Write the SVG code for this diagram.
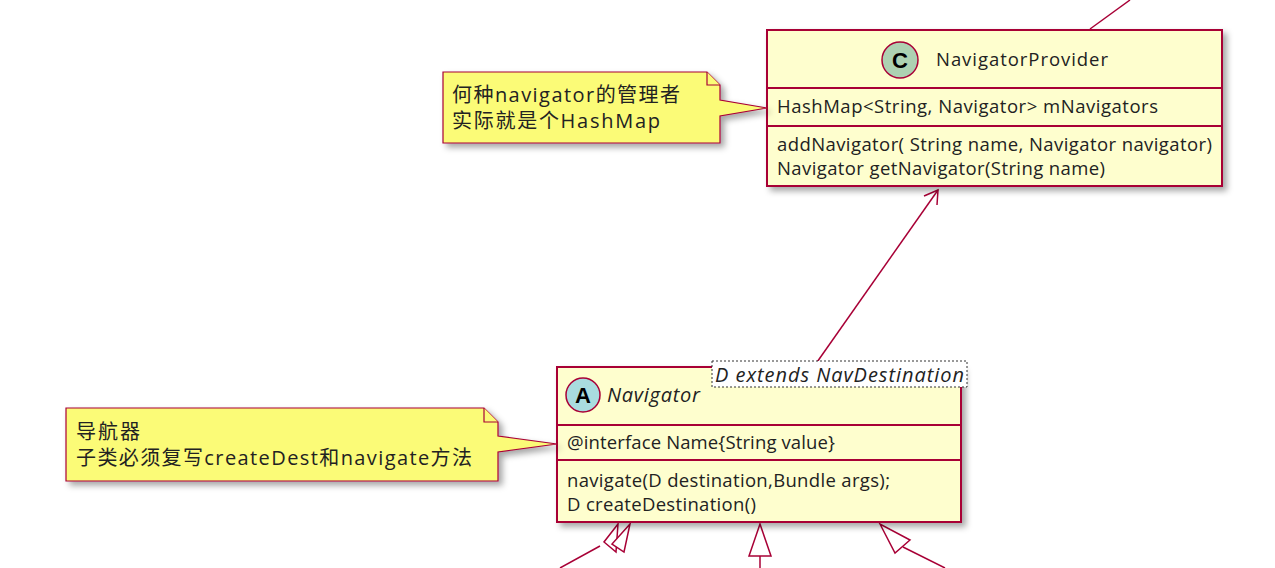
<svg xmlns="http://www.w3.org/2000/svg" width="1275" height="568" viewBox="0 0 1275 568">
<style>
.box{fill:#FEFECE;stroke:#A80036;stroke-width:2}
.note{fill:#FBFB77;stroke:#A80036;stroke-width:1.2}
.sep{stroke:#A80036;stroke-width:2}
.t{font-family:"Open Sans","Noto Sans CJK SC",sans-serif;font-size:18.5px;fill:#222}
.n{font-size:20px}
.i{font-style:italic;font-size:20px}
.ln{stroke:#A80036;stroke-width:1.5;fill:none}
.tri{fill:#fff;stroke:#A80036;stroke-width:1.5}
</style>
<defs>
<filter id="sh" x="-10%" y="-10%" width="130%" height="130%"><feDropShadow dx="4" dy="4" stdDeviation="3" flood-opacity="0.35"/></filter>
</defs>
<rect width="1275" height="568" fill="#fff"/>
<g id="connectors">
<line class="ln" x1="1090" y1="29" x2="1130" y2="0"/>
<line class="ln" x1="815" y1="365" x2="938" y2="190"/>
<path class="ln" d="M924 196 L938 190 L937 205"/>
<line class="ln" x1="600" y1="546" x2="560" y2="568"/>
<polygon class="tri" points="618,524 604,542 616,552"/>
<polygon class="tri" points="630,524 612,544 624,552"/>
<polygon class="tri" points="760,524 749,556 771,556"/>
<line class="ln" x1="760" y1="556" x2="760" y2="568"/>
<polygon class="tri" points="880,524 895,553 910,540"/>
<line class="ln" x1="903" y1="547" x2="945" y2="568"/>
</g>
<g id="NavigatorProvider">
<rect class="box" x="767" y="30" width="455" height="156" filter="url(#sh)"/>
<line class="sep" x1="767" y1="88" x2="1222" y2="88"/>
<line class="sep" x1="767" y1="126" x2="1222" y2="126"/>
<circle cx="900" cy="60" r="18" fill="#ADD1B2" stroke="#A80036" stroke-width="1.5"/>
<text x="900" y="68" text-anchor="middle" font-family="Liberation Sans,sans-serif" font-weight="bold" font-size="22" fill="#000">C</text>
<text class="t" x="936" y="66" textLength="172">NavigatorProvider</text>
<text class="t" x="777" y="113" textLength="381">HashMap&lt;String, Navigator&gt; mNavigators</text>
<text class="t" x="777" y="151" textLength="435">addNavigator( String name, Navigator navigator)</text>
<text class="t" x="777" y="175" textLength="328">Navigator getNavigator(String name)</text>
</g>
<g id="note1">
<path class="note" d="M443 72 L707 72 L720 85 L720 100 L767 108 L720 116 L720 143 L443 143 Z" filter="url(#sh)"/>
<path class="note" d="M707 72 L707 85 L720 85"/>
<text class="t n" x="452" y="102" textLength="228">何种navigator的管理者</text>
<text class="t n" x="452" y="128" textLength="208">实际就是个HashMap</text>
</g>
<g id="Navigator">
<rect class="box" x="557" y="367" width="404" height="155" filter="url(#sh)"/>
<line class="sep" x1="557" y1="425" x2="961" y2="425"/>
<line class="sep" x1="557" y1="460" x2="961" y2="460"/>
<circle cx="583" cy="395" r="17" fill="#A9DCDF" stroke="#A80036" stroke-width="1.5"/>
<text x="583" y="403" text-anchor="middle" font-family="Liberation Sans,sans-serif" font-weight="bold" font-size="22" fill="#000">A</text>
<text class="t i" x="607" y="402" textLength="93">Navigator</text>
<rect x="712" y="361" width="255" height="26" fill="#fff" stroke="#333" stroke-width="1" stroke-dasharray="2,2"/>
<text class="t i" x="715" y="382" textLength="249">D extends NavDestination</text>
<text class="t" x="567" y="449" textLength="268">@interface Name{String value}</text>
<text class="t" x="567" y="487" textLength="323">navigate(D destination,Bundle args);</text>
<text class="t" x="567" y="511" textLength="189">D createDestination()</text>
</g>
<g id="note2">
<path class="note" d="M66 408 L484 408 L498 422 L498 436 L557 444 L498 452 L498 481 L66 481 Z" filter="url(#sh)"/>
<path class="note" d="M484 408 L484 422 L498 422"/>
<text class="t n" x="76" y="439" textLength="64">导航器</text>
<text class="t n" x="76" y="465" textLength="396">子类必须复写createDest和navigate方法</text>
</g>
</svg>
